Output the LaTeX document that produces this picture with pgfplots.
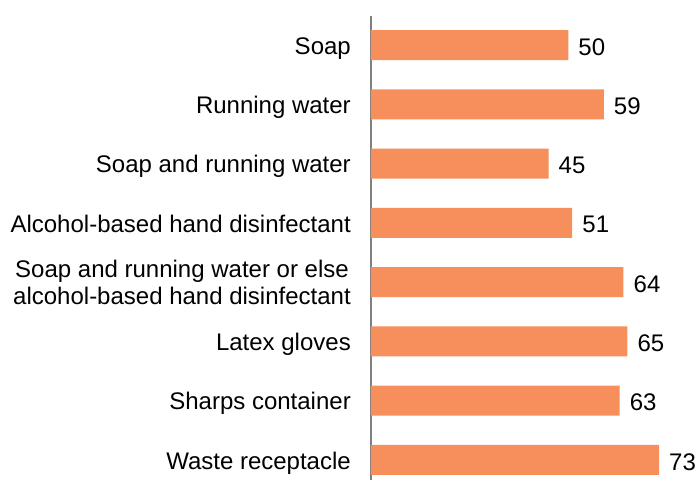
\documentclass[border=0pt]{standalone}
\usepackage{pgfplots}
\pgfplotsset{compat=1.18}
\usepackage{fontspec}
\setmainfont{Liberation Sans}
\definecolor{barc}{RGB}{246,143,91}
\newcommand\nd[1]{\raisebox{0pt}[\height][0pt]{#1}}
\begin{document}
\begin{tikzpicture}
\begin{axis}[
 scale only axis,
 width=326bp, height=464bp,
 xmin=0, xmax=82.63,
 ymin=-0.49, ymax=7.34,
 y dir=reverse,
 xbar, bar width=30bp,
 axis x line=none,
 axis y line*=left,
 y axis line style={draw=gray, line width=1.5bp, -},
 ytick={0,...,7},
 yticklabels={\nd{Soap}, \nd{Running water}, \nd{Soap and running water}, \nd{Alcohol-based hand disinfectant}, {Soap and running water or else\\alcohol-based hand disinfectant}, \nd{Latex gloves}, \nd{Sharps container}, \nd{Waste receptacle}},
 yticklabel style={font=\fontsize{24bp}{27bp}\selectfont, align=center, inner sep=0pt, xshift=-20bp, yshift=-0.7bp},
 major tick length=0pt,
 nodes near coords,
 nodes near coords style={font=\fontsize{24bp}{27bp}\selectfont, anchor=west, inner sep=0pt, xshift=10bp, yshift=-2bp, black},
 /pgf/number format/assume math mode=true,
 clip=false,
]
\addplot[fill=barc, draw=none] coordinates {(50,0) (59,1) (45,2) (51,3) (64,4) (65,5) (63,6) (73,7)};
\end{axis}
\path ([shift={(-371bp,16bp)}]current axis.north west) rectangle (current axis.south east);
\end{tikzpicture}
\end{document}
